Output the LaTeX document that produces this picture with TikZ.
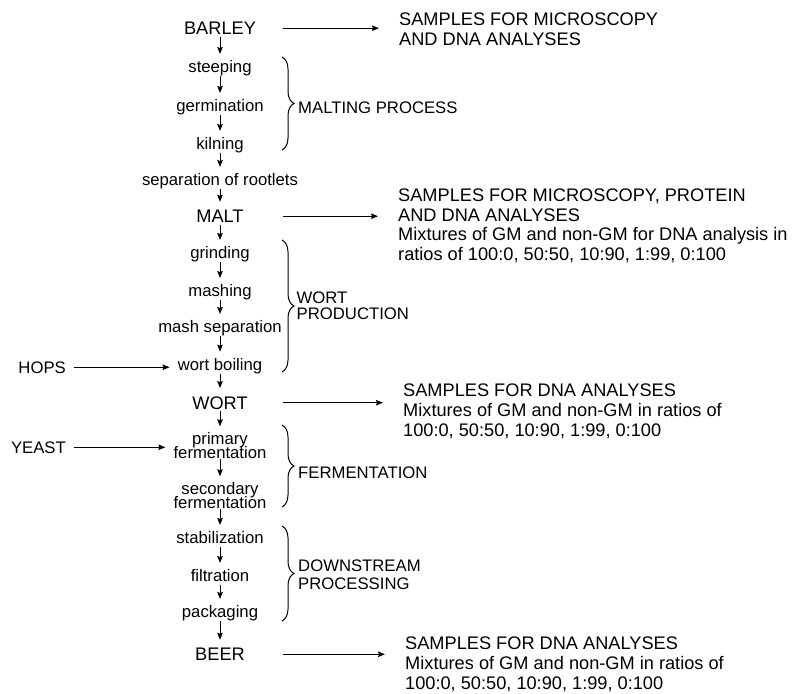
\documentclass[tikz,border=0pt]{standalone}
\usepackage{fontspec}
\setmainfont{Liberation Sans}
\usetikzlibrary{arrows.meta, decorations.pathreplacing}
\newcommand{\smallsz}{\fontsize{16.7}{14}\selectfont\lineskiplimit=-20pt}
\newcommand{\bigsz}{\fontsize{18.2}{19.8}\selectfont}

\begin{document}
\begin{tikzpicture}[x=1pt, y=-1pt,
    stage/.style={inner sep=0pt, text depth=3.5pt, font=\smallsz, anchor=base},
    stagetwo/.style={inner sep=0pt, align=center, font=\smallsz, anchor=north},
    product/.style={inner xsep=0pt, inner ysep=2pt, font=\bigsz, anchor=base},
    samplebox/.style={inner sep=0pt, align=left, font=\bigsz, anchor=north west},
    input/.style={inner sep=0pt, font=\smallsz, anchor=base east},
    grplabel/.style={inner sep=0pt, align=left, font=\smallsz},
    flow/.style={-{Stealth[length=7pt, width=5.5pt, inset=1pt]}, line width=1pt, shorten >=6pt},
    samplearrow/.style={flow, shorten >=20pt},
    feed/.style={flow, shorten <=8pt, shorten >=8pt},
    grp/.style={line width=1pt, decorate, decoration={brace, amplitude=12pt}}]
  \useasboundingbox (0,0) rectangle (794,693);

  % Gerste und Maelzen
  \node[product] (barley) at (220,34.5) {BARLEY};
  \node[stage] (steep) at (220,72.3) {steeping};
  \node[stage] (germ) at (220,111.3) {germination};
  \node[stage] (kiln) at (220,149.3) {kilning};
  \node[stage] (sep) at (220,185.3) {separation of rootlets};
  \node[product] (malt) at (220,222.5) {MALT};

  % Wuerzebereitung
  \node[stage] (grind) at (220,258.3) {grinding};
  \node[stage] (mash) at (220,296.3) {mashing};
  \node[stage] (msep) at (220,332.3) {mash separation};
  \node[stage] (boil) at (220,370) {wort boiling};
  \node[product] (wort) at (220,409) {WORT};

  % Gaerung und Abfuellung
  \node[stagetwo] (prim) at (220,432.3) {primary\\fermentation};
  \node[stagetwo] (sec) at (220,482.3) {secondary\\fermentation};
  \node[stage] (stab) at (220,543.3) {stabilization};
  \node[stage] (filt) at (220,581.3) {filtration};
  \node[stage] (pack) at (220,617.3) {packaging};
  \node[product] (beer) at (220,660.5) {BEER};

  % Hauptstrang
  \draw[flow] (barley) -- (steep);
  \draw[flow] (steep) -- (germ);
  \draw[flow] (germ) -- (kiln);
  \draw[flow] (kiln) -- (sep);
  \draw[flow] (sep) -- (malt);
  \draw[flow] (malt) -- (grind);
  \draw[flow] (grind) -- (mash);
  \draw[flow] (mash) -- (msep);
  \draw[flow] (msep) -- (boil);
  \draw[flow] (boil) -- (wort);
  \draw[flow] (wort) -- (prim);
  \draw[flow] (prim) -- (sec);
  \draw[flow] (sec) -- (stab);
  \draw[flow] (stab) -- (filt);
  \draw[flow] (filt) -- (pack);
  \draw[flow] (pack) -- (beer);

  % Zugaben
  \node[input] (hops) at (66,373) {HOPS};
  \node[input] (yeast) at (66,453) {YEAST};
  \draw[feed] (hops) -- (hops -| boil.west);
  \draw[feed] (yeast) -- (yeast -| prim.west);

  % Abschnitte
  \draw[grp] (282,57) -- (282,150);
  \node[grplabel, anchor=base west] (mltlbl) at (298,113) {MALTING PROCESS};
  \draw[grp] (282,240) -- (282,372);
  \node[grplabel, anchor=north west] (wplbl) at (296.5,292) {WORT\\[2pt]PRODUCTION};
  \draw[grp] (282,425) -- (282,507);
  \node[grplabel, anchor=base west] (fermlbl) at (298,478) {FERMENTATION};
  \draw[grp] (282,526) -- (282,621);
  \node[grplabel, anchor=north west] (dslbl) at (298,560) {DOWNSTREAM\\[4pt]PROCESSING};

  % Probenahme
  \coordinate (outx) at (283,0);
  \node[samplebox] (smpa) at (399,12.3) {SAMPLES FOR MICROSCOPY\\AND DNA ANALYSES};
  \node[samplebox] (smpb) at (398,188.3) {SAMPLES FOR MICROSCOPY, PROTEIN\\AND DNA ANALYSES\\Mixtures of GM and non-GM for DNA analysis in\\ratios of 100:0, 50:50, 10:90, 1:99, 0:100};
  \node[samplebox] (smpc) at (403,384) {SAMPLES FOR DNA ANALYSES\\Mixtures of GM and non-GM in ratios of\\100:0, 50:50, 10:90, 1:99, 0:100};
  \node[samplebox] (smpd) at (405,636.7) {SAMPLES FOR DNA ANALYSES\\Mixtures of GM and non-GM in ratios of\\100:0, 50:50, 10:90, 1:99, 0:100};
  \draw[samplearrow] (barley -| outx) -- (barley -| smpa.west);
  \draw[samplearrow] (malt -| outx) -- (malt -| smpb.west);
  \draw[samplearrow] (wort -| outx) -- (wort -| smpc.west);
  \draw[samplearrow] (beer -| outx) -- (beer -| smpd.west);
\end{tikzpicture}
\end{document}
